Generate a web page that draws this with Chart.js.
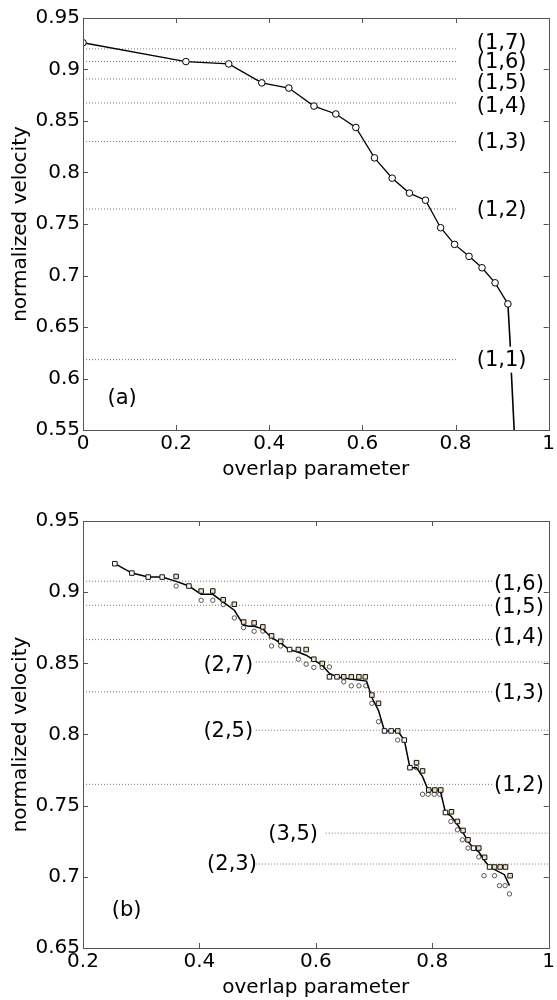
<!DOCTYPE html>
<html><head><meta charset="utf-8">
<script src="https://cdn.jsdelivr.net/npm/chart.js@4/dist/chart.umd.min.js"></script>
<style>
html,body{margin:0;padding:0;background:#fff;}
#wrap{position:relative;width:557px;height:1000px;overflow:hidden;}
.box{position:absolute;left:0;width:557px;height:500px;}
</style></head><body>
<div id="wrap">
<div class="box" style="top:0"><canvas id="c1"></canvas></div>
<div class="box" style="top:500px"><canvas id="c2"></canvas></div>
</div>
<script>
// ---------- Panel (a) data ----------
const aX = [0, 0.221, 0.313, 0.384, 0.442, 0.496, 0.543, 0.586, 0.626, 0.664, 0.701, 0.7355, 0.768, 0.798, 0.829, 0.857, 0.885, 0.9125];
const aY = [0.926, 0.9077, 0.9054, 0.887, 0.882, 0.8645, 0.8568, 0.8437, 0.8142, 0.7945, 0.780, 0.7731, 0.7464, 0.7302, 0.7186, 0.7075, 0.6929, 0.6724];
const aTailX = [0.9125, 0.917, 0.920, 0.926, 0.928];
const aTailY = [0.6724, 0.637, 0.605, 0.55, 0.53];
const aLevels = [0.920, 0.9077, 0.8908, 0.8675, 0.830, 0.7646, 0.6183];
const aLevelNames = ['(1,7)', '(1,6)', '(1,5)', '(1,4)', '(1,3)', '(1,2)', '(1,1)'];
const aXTicks = [0, 0.2, 0.4, 0.6, 0.8, 1];
const aXTickLabels = ['0', '0.2', '0.4', '0.6', '0.8', '1'];
const aYTicks = [0.55, 0.6, 0.65, 0.7, 0.75, 0.8, 0.85, 0.9, 0.95];
const aYTickLabels = ['0.55', '0.6', '0.65', '0.7', '0.75', '0.8', '0.85', '0.9', '0.95'];

// ---------- Panel (b) data ----------
const bLineX = [0.2547, 0.284, 0.312, 0.336, 0.360, 0.382, 0.403, 0.423, 0.441, 0.460, 0.476, 0.4855, 0.494, 0.509, 0.524, 0.5397, 0.554, 0.570, 0.5834, 0.5966, 0.611, 0.6234, 0.6364, 0.6496, 0.6872, 0.6963, 0.7077, 0.718, 0.7407, 0.752, 0.7617, 0.773, 0.7834, 0.793, 0.8136, 0.8227, 0.833, 0.8433, 0.853, 0.8615, 0.871, 0.880, 0.890, 0.8985, 0.924, 0.9327];
const bLineY = [0.920, 0.9134, 0.9106, 0.9106, 0.9076, 0.9043, 0.8985, 0.8985, 0.893, 0.8873, 0.8768, 0.876, 0.876, 0.8742, 0.868, 0.8643, 0.8597, 0.8578, 0.8557, 0.8522, 0.8487, 0.8429, 0.8405, 0.8395, 0.8375, 0.826, 0.8169, 0.8025, 0.8025, 0.7961, 0.7767, 0.7767, 0.7704, 0.761, 0.761, 0.7452, 0.7424, 0.7366, 0.731, 0.7247, 0.7202, 0.7176, 0.7113, 0.7069, 0.7015, 0.6938];
const bWhiteSqX = [0.2547, 0.284, 0.312, 0.336, 0.382, 0.555, 0.6234, 0.6364, 0.718, 0.7294, 0.752, 0.7617, 0.8227, 0.871, 0.8985];
const bWhiteSqY = [0.920, 0.9134, 0.9106, 0.9106, 0.9043, 0.8597, 0.8405, 0.8405, 0.8025, 0.8025, 0.7961, 0.7767, 0.7452, 0.7202, 0.7069];
const bSqX = [0.360, 0.403, 0.423, 0.441, 0.460, 0.476, 0.494, 0.509, 0.524, 0.5397, 0.570, 0.5834, 0.5966, 0.611, 0.648, 0.661, 0.674, 0.685, 0.6963, 0.7077, 0.7407, 0.773, 0.7834, 0.794, 0.8045, 0.8147, 0.833, 0.8433, 0.853, 0.8615, 0.880, 0.890, 0.907, 0.9167, 0.9259, 0.9338];
const bSqY = [0.911, 0.9008, 0.9008, 0.8947, 0.8915, 0.879, 0.8784, 0.8756, 0.8693, 0.8655, 0.8597, 0.8597, 0.8529, 0.8499, 0.8405, 0.8405, 0.8405, 0.8405, 0.8277, 0.8219, 0.8025, 0.7802, 0.7744, 0.761, 0.761, 0.761, 0.7457, 0.7389, 0.7326, 0.726, 0.7202, 0.7137, 0.7069, 0.7069, 0.7069, 0.7008];
const bCircX = [0.360, 0.403, 0.423, 0.441, 0.460, 0.476, 0.494, 0.509, 0.524, 0.5397, 0.570, 0.5834, 0.5966, 0.611, 0.6234, 0.648, 0.661, 0.674, 0.686, 0.6963, 0.7077, 0.7407, 0.773, 0.7834, 0.793, 0.8034, 0.813, 0.832, 0.8433, 0.8518, 0.8615, 0.880, 0.889, 0.907, 0.9156, 0.9252, 0.9327];
const bCircY = [0.9043, 0.8943, 0.8943, 0.8913, 0.8819, 0.8751, 0.8725, 0.8727, 0.8622, 0.8622, 0.8529, 0.8494, 0.8471, 0.8471, 0.8475, 0.837, 0.8342, 0.8342, 0.8342, 0.8219, 0.809, 0.7961, 0.7767, 0.758, 0.758, 0.758, 0.758, 0.7389, 0.733, 0.726, 0.7202, 0.714, 0.7008, 0.7008, 0.6938, 0.6938, 0.688];
const bLevels1 = [0.9077, 0.8908, 0.8667, 0.830, 0.765];
const bLevel1Names = ['(1,6)', '(1,5)', '(1,4)', '(1,3)', '(1,2)'];
const bLevels2 = [0.851, 0.803, 0.7307, 0.709];
const bLevel2Names = ['(2,7)', '(2,5)', '(3,5)', '(2,3)'];
const bXTicks = [0.2, 0.4, 0.6, 0.8, 1];
const bXTickLabels = ['0.2', '0.4', '0.6', '0.8', '1'];
const bYTicks = [0.65, 0.7, 0.75, 0.8, 0.85, 0.9, 0.95];
const bYTickLabels = ['0.65', '0.7', '0.75', '0.8', '0.85', '0.9', '0.95'];

// ---------- layout / annotation config ----------
const FONT = "'DejaVu Sans', Verdana, sans-serif";
const pts = (xs, ys) => xs.map((x, i) => ({x, y: ys[i]}));

const aLabelPos = [
  {x: 0.899, y: 0.9264}, {x: 0.899, y: 0.9074}, {x: 0.899, y: 0.8869}, {x: 0.899, y: 0.8648},
  {x: 0.899, y: 0.830}, {x: 0.899, y: 0.7636}, {x: 0.899, y: 0.6183}
];
const bLabel1Pos = [{x: 0.949, y: 0.906}, {x: 0.949, y: 0.890}, {x: 0.949, y: 0.8686}, {x: 0.949, y: 0.8293}, {x: 0.949, y: 0.765}];
const bLabel2Pos = [{x: 0.4496, y: 0.8494}, {x: 0.4496, y: 0.8027}, {x: 0.561, y: 0.7307}, {x: 0.456, y: 0.709}];
const bLevel2Start = [0.497, 0.497, 0.617, 0.497];

const decoPlugin = {
  id: 'deco',
  afterDraw(chart, args, opts) {
    const {ctx, chartArea: a, scales: {x, y}} = chart;
    ctx.save();
    // text labels
    ctx.font = '21px ' + FONT;
    ctx.textAlign = 'center';
    ctx.textBaseline = 'middle';
    (opts.labels || []).forEach(l => {
      const px = x.getPixelForValue(l.x), py = y.getPixelForValue(l.y);
      if (l.bg) {
        const w = ctx.measureText(l.text).width;
        ctx.fillStyle = '#fff';
        ctx.fillRect(px - w / 2 - 2, py - 13, w + 4, 26);
      }
      ctx.fillStyle = '#000';
      ctx.fillText(l.text, px, py + 1);
    });
    // frame
    ctx.strokeStyle = '#555';
    ctx.lineWidth = 1;
    ctx.strokeRect(Math.round(a.left) + 0.5, Math.round(a.top) + 0.5, Math.round(a.right - a.left), Math.round(a.bottom - a.top));
    ctx.beginPath();
    x.ticks.forEach(t => {
      const p = Math.round(x.getPixelForValue(t.value)) + 0.5;
      ctx.moveTo(p, a.bottom); ctx.lineTo(p, a.bottom - 5);
      ctx.moveTo(p, a.top); ctx.lineTo(p, a.top + 5);
    });
    y.ticks.forEach(t => {
      const p = Math.round(y.getPixelForValue(t.value)) + 0.5;
      ctx.moveTo(a.left, p); ctx.lineTo(a.left + 5, p);
      ctx.moveTo(a.right, p); ctx.lineTo(a.right - 5, p);
    });
    ctx.stroke();
    ctx.restore();
  }
};

function refLine(x0, x1, v) {
  return {data: [{x: x0, y: v}, {x: x1, y: v}], showLine: true, pointRadius: 0,
    borderColor: '#777', borderWidth: 1, borderDash: [1, 2], order: 10};
}

function axes(xmin, xmax, ymin, ymax, xT, xL, yT, yL, xH, titlePadBottom) {
  return {
    x: {
      type: 'linear', min: xmin, max: xmax,
      afterBuildTicks: s => { s.ticks = xT.map(v => ({value: v})); },
      afterFit: s => { s.height = xH; },
      grid: {display: false, drawTicks: false},
      border: {display: false},
      ticks: {autoSkip: false, maxRotation: 0, padding: 2, color: '#000',
        font: {family: FONT, size: 20}, callback: (v, i) => xL[i]},
      title: {display: true, text: 'overlap parameter', color: '#000',
        font: {family: FONT, size: 20}, padding: {top: 0, bottom: titlePadBottom}}
    },
    y: {
      type: 'linear', min: ymin, max: ymax,
      afterBuildTicks: s => { s.ticks = yT.map(v => ({value: v})); },
      afterFit: s => { s.width = 83; },
      grid: {display: false, drawTicks: false},
      border: {display: false},
      ticks: {autoSkip: false, padding: 3, color: '#000',
        font: {family: FONT, size: 20}, callback: (v, i) => yL[i]},
      title: {display: true, text: 'normalized velocity', color: '#000',
        font: {family: FONT, size: 20}, padding: {top: 9, bottom: 0}}
    }
  };
}

const common = {
  responsive: true, maintainAspectRatio: false, animation: false,
  plugins: {legend: {display: false}, tooltip: {enabled: false}}
};

// ---------- Chart (a) ----------
const aDatasets = [
  {data: pts(aX, aY), showLine: true, borderColor: '#000', borderWidth: 1.3,
    pointStyle: 'circle', pointRadius: 3.3, pointBackgroundColor: '#fff', pointBorderColor: '#000', pointBorderWidth: 1, order: 0},
  {data: pts(aTailX, aTailY), showLine: true, borderColor: '#000', borderWidth: 1.6, pointRadius: 0, order: 1}
].concat(aLevels.map(v => refLine(0, 0.802, v)));

new Chart(document.getElementById('c1'), {
  type: 'scatter',
  data: {datasets: aDatasets},
  options: Object.assign({}, common, {
    layout: {padding: {top: 18, right: 8, left: 0, bottom: 0}},
    scales: axes(0, 1, 0.55, 0.95, aXTicks, aXTickLabels, aYTicks, aYTickLabels, 70, 18),
    plugins: Object.assign({}, common.plugins, {
      deco: {labels: aLevelNames.map((t, i) => ({text: t, x: aLabelPos[i].x, y: aLabelPos[i].y, bg: i === 6}))
        .concat([{text: '(a)', x: 0.084, y: 0.5816}])}
    })
  }),
  plugins: [decoPlugin]
});

// ---------- Chart (b) ----------
const bDatasets = [
  {data: pts(bWhiteSqX, bWhiteSqY), pointStyle: 'rect', pointRadius: 3.2,
    pointBackgroundColor: '#fff', pointBorderColor: '#111', pointBorderWidth: 1, order: 0},
  {data: pts(bSqX, bSqY), pointStyle: 'rect', pointRadius: 3.2,
    pointBackgroundColor: '#f3e0bf', pointBorderColor: '#111', pointBorderWidth: 1, order: 1},
  {data: pts(bLineX, bLineY), showLine: true, borderColor: '#000', borderWidth: 1.5, pointRadius: 0, order: 2},
  {data: pts(bCircX, bCircY), pointStyle: 'circle', pointRadius: 2.2,
    pointBackgroundColor: '#fff', pointBorderColor: '#555', pointBorderWidth: 1, order: 3}
].concat(bLevels1.map(v => refLine(0.2, 0.904, v)))
 .concat(bLevels2.map((v, i) => refLine(bLevel2Start[i], 1, v)));

new Chart(document.getElementById('c2'), {
  type: 'scatter',
  data: {datasets: bDatasets},
  options: Object.assign({}, common, {
    layout: {padding: {top: 21, right: 8, left: 0, bottom: 0}},
    scales: axes(0.2, 1, 0.65, 0.95, bXTicks, bXTickLabels, bYTicks, bYTickLabels, 52, 0),
    plugins: Object.assign({}, common.plugins, {
      deco: {labels: bLevel1Names.map((t, i) => ({text: t, x: bLabel1Pos[i].x, y: bLabel1Pos[i].y}))
        .concat(bLevel2Names.map((t, i) => ({text: t, x: bLabel2Pos[i].x, y: bLabel2Pos[i].y})))
        .concat([{text: '(b)', x: 0.275, y: 0.677}])}
    })
  }),
  plugins: [decoPlugin]
});
</script>
</body></html>
